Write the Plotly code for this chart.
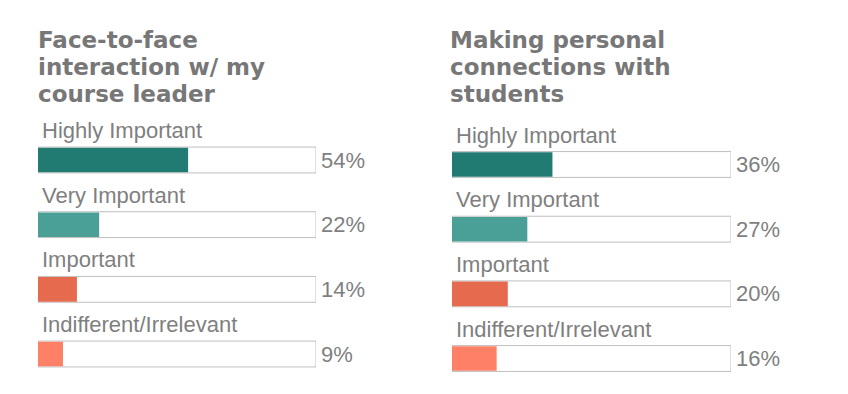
import plotly.graph_objects as go

categories = ["Highly Important", "Very Important", "Important", "Indifferent/Irrelevant"]
left_values = [54, 22, 14, 9]
right_values = [36, 27, 20, 16]
left_title = ["Face-to-face", "interaction w/ my", "course leader"]
right_title = ["Making personal", "connections with", "students"]
bar_colors = ["#217B72", "#4AA097", "#E66B4E", "#FE8066"]

# page body has an 8px margin: work in window pixels, then subtract OFF
OFF = 8
W, H = 848 - OFF, 394 - OFF
TEXT = "#7F7F7F"
TITLE_C = "#777777"
LABEL_FONT = dict(family="Liberation Sans, Arial", size=22, color=TEXT)
PCT_FONT = dict(family="Liberation Sans, Arial", size=22, color=TEXT)
TITLE_FONT = dict(family="DejaVu Sans", size=23, color=TITLE_C, weight="bold")

fig = go.Figure()
pos = list(range(len(categories)))

panels = [
    dict(vals=left_values, title=left_title, xa="x", ya="y", tx=38),
    dict(vals=right_values, title=right_title, xa="x2", ya="y2", tx=450),
]
spacing = 64.67
annotations = []
for p in panels:
    fig.add_trace(go.Bar(x=[100] * len(categories), y=pos, orientation="h", width=0.4,
                         marker=dict(color="white", line=dict(color="#BFBFBF", width=1)),
                         xaxis=p["xa"], yaxis=p["ya"], hoverinfo="skip", showlegend=False))
    fig.add_trace(go.Bar(x=p["vals"], y=pos, orientation="h", width=0.38,
                         marker=dict(color=bar_colors, line=dict(width=0)),
                         xaxis=p["xa"], yaxis=p["ya"], showlegend=False))
    for i, (cat, v) in enumerate(zip(categories, p["vals"])):
        annotations.append(dict(x=0, y=i - 0.2, xref=p["xa"], yref=p["ya"], text=cat, showarrow=False,
                                xanchor="left", yanchor="bottom", xshift=2, yshift=2,
                                font=LABEL_FONT))
        annotations.append(dict(x=100, y=i, xref=p["xa"], yref=p["ya"], text=f"{v}%", showarrow=False,
                                xanchor="left", yanchor="middle", xshift=3, yshift=0,
                                font=PCT_FONT))
    for j, line in enumerate(p["title"]):
        baseline = 47 + 27 * j - OFF
        annotations.append(dict(x=(p["tx"] - OFF) / W, y=1 - (baseline - 7) / H, xref="paper", yref="paper",
                                text=line, showarrow=False, xanchor="left", yanchor="middle",
                                xshift=-2, font=TITLE_FONT))

ax_common = dict(range=[0, 100], showgrid=False, zeroline=False, showticklabels=False, fixedrange=True)
c_left, c_right = 160 - OFF, 164.5 - OFF
fig.update_layout(
    width=W, height=H, margin=dict(l=0, r=0, t=0, b=0),
    paper_bgcolor="white", plot_bgcolor="white", barmode="overlay",
    xaxis=dict(domain=[(38 - OFF) / W, (316 - OFF) / W], **ax_common),
    xaxis2=dict(domain=[(452 - OFF) / W, (731 - OFF) / W], **ax_common),
    yaxis=dict(domain=[0, 1], range=[(H - c_left) / spacing, -c_left / spacing], showgrid=False,
               zeroline=False, showticklabels=False),
    yaxis2=dict(domain=[0, 1], range=[(H - c_right) / spacing, -c_right / spacing], showgrid=False,
                zeroline=False, showticklabels=False, anchor="x2"),
    annotations=annotations,
)
fig.write_html("out.html")
